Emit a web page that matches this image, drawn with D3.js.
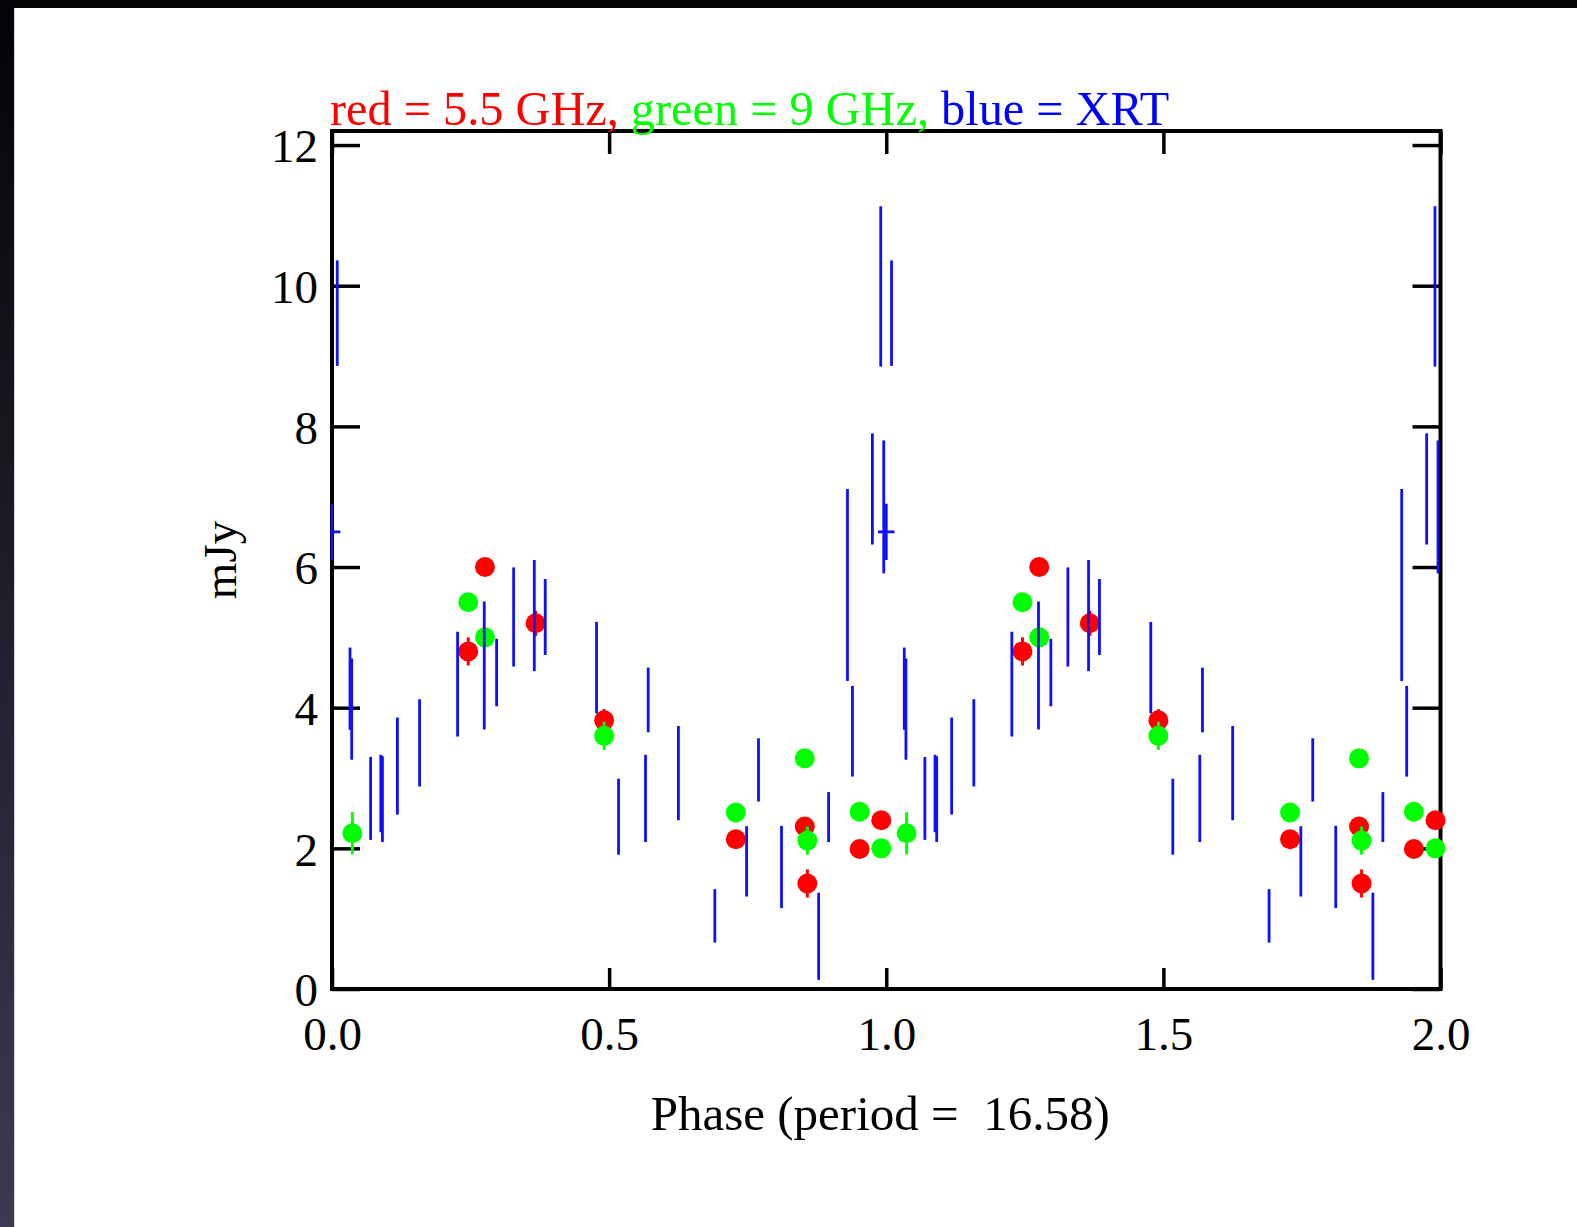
<!DOCTYPE html>
<html>
<head>
<meta charset="utf-8">
<script src="https://cdn.jsdelivr.net/npm/d3@7"></script>
<style>
body { margin: 0; background: #fff; }
svg { display: block; }
text { font-family: "Liberation Serif", "Times New Roman", serif; }
</style>
</head>
<body>
<div id="chart"></div>
<script>
// XRT rate (phase 0-1), drawn for two cycles
var xrtPhase = [0.0, 0.0095, 0.0325, 0.0355, 0.0697, 0.088, 0.091, 0.118, 0.158, 0.2266,
    0.2747, 0.297, 0.3277, 0.365, 0.3847, 0.4773, 0.517, 0.5657, 0.5705, 0.625,
    0.6907, 0.748, 0.7695, 0.811, 0.878, 0.896, 0.930, 0.939, 0.975, 0.990, 0.9955];
var xrtFlux = [6.50, 9.61, 4.27, 3.98, 2.71, 2.78, 2.70, 3.17, 3.50, 4.335,
    4.60, 4.50, 5.29, 5.31, 5.29, 4.57, 2.45, 2.71, 4.11, 3.07,
    1.04, 1.815, 3.115, 1.735, 0.75, 2.445, 5.745, 3.665, 7.11, 9.99, 6.855];
var xrtErr = [0.40, 0.75, 0.585, 0.72, 0.59, 0.55, 0.61, 0.69, 0.62, 0.745,
    0.91, 0.48, 0.705, 0.79, 0.54, 0.65, 0.54, 0.62, 0.46, 0.67,
    0.38, 0.50, 0.45, 0.585, 0.62, 0.355, 1.365, 0.645, 0.79, 1.14, 0.945];
var xrtPhaseErr = [0.015, 0, 0, 0, 0, 0, 0, 0, 0, 0,
    0, 0, 0, 0, 0, 0, 0, 0, 0, 0,
    0, 0, 0, 0, 0, 0, 0, 0, 0, 0, 0];

// 5.5 GHz (red)
var radio55Phase = [0.2458, 0.276, 0.3673, 0.491, 0.7286, 0.853, 0.8576, 0.952, 0.991];
var radio55Flux = [4.80, 6.00, 5.20, 3.82, 2.13, 2.31, 1.50, 1.99, 2.40];
var radio55Err = [0.20, 0.10, 0.18, 0.16, 0.10, 0.10, 0.20, 0.10, 0.10];

// 9 GHz (green)
var radio9Phase = [0.0367, 0.2458, 0.276, 0.491, 0.7286, 0.853, 0.8576, 0.952, 0.991];
var radio9Flux = [2.215, 5.50, 5.00, 3.60, 2.51, 3.28, 2.11, 2.52, 2.00];
var radio9Err = [0.30, 0.10, 0.10, 0.20, 0.10, 0.10, 0.20, 0.10, 0.10];

var cycles = [0, 1];
var xTicks = [0, 0.5, 1, 1.5, 2];
var yTicks = [0, 2, 4, 6, 8, 10, 12];

var width = 1577, height = 1227;
var pLeft = 332, pRight = 1440.5, pTop = 131, pBottom = 989;

var x = d3.scaleLinear().domain([0, 2]).range([pLeft, pRight]);
var y = d3.scaleLinear().domain([0, 12.2]).range([pBottom, pTop]);

var svg = d3.select("#chart")
    .append("svg")
    .attr("width", width)
    .attr("height", height);

// dark window border
var defs = svg.append("defs");
var grad = defs.append("linearGradient")
    .attr("id", "side").attr("x1", 0).attr("y1", 0).attr("x2", 0).attr("y2", 1);
grad.append("stop").attr("offset", "0%").attr("stop-color", "#030305");
grad.append("stop").attr("offset", "100%").attr("stop-color", "#3c3a52");
svg.append("rect").attr("x", 0).attr("y", 0).attr("width", 14).attr("height", height).attr("fill", "url(#side)");
svg.append("rect").attr("x", 0).attr("y", 0).attr("width", width).attr("height", 8).attr("fill", "#050505");
svg.append("line").attr("x1", 14.5).attr("x2", 14.5).attr("y1", 8).attr("y2", height)
    .attr("stroke", "#d4d4dc").attr("stroke-width", 1);

defs.append("clipPath").attr("id", "plot")
    .append("rect").attr("x", pLeft).attr("y", pTop)
    .attr("width", pRight - pLeft).attr("height", pBottom - pTop);

// axes and frame first, data on top
function style(g, size) {
    g.select(".domain").remove();
    g.selectAll(".tick line").attr("stroke", "#000").attr("stroke-width", 3.5);
    g.selectAll(".tick text").attr("fill", "#000").attr("font-size", size)
        .attr("font-family", "Liberation Serif, Times New Roman, serif");
}

svg.append("g")
    .attr("transform", "translate(0," + pBottom + ")")
    .call(d3.axisBottom(x).tickValues(xTicks).tickSize(-21).tickPadding(28).tickFormat(d3.format(".1f")))
    .call(style, 47);

svg.append("g")
    .attr("transform", "translate(0," + pTop + ")")
    .call(d3.axisTop(x).tickValues(xTicks).tickSize(-23).tickFormat(""))
    .call(style, 0);

svg.append("g")
    .attr("transform", "translate(" + pLeft + ",0)")
    .call(d3.axisLeft(y).tickValues(yTicks).tickSize(-28).tickPadding(14))
    .call(style, 47)
    .selectAll(".tick text").attr("dy", "0.36em");

svg.append("g")
    .attr("transform", "translate(" + pRight + ",0)")
    .call(d3.axisRight(y).tickValues(yTicks).tickSize(-28).tickFormat(""))
    .call(style, 0);

svg.append("rect")
    .attr("x", pLeft).attr("y", pTop)
    .attr("width", pRight - pLeft).attr("height", pBottom - pTop)
    .attr("fill", "none").attr("stroke", "#000").attr("stroke-width", 4);

function rows(ph, fl, er, pe) {
    var out = [];
    cycles.forEach(function(c) {
        ph.forEach(function(p, i) {
            out.push({p: p + c, v: fl[i], e: er[i], pe: pe ? pe[i] : 0});
        });
    });
    return out;
}

function radio(data, color) {
    var g = svg.append("g");
    g.selectAll("line.err")
        .data(data)
        .enter()
        .append("line")
        .attr("x1", function(d) { return x(d.p); })
        .attr("x2", function(d) { return x(d.p); })
        .attr("y1", function(d) { return y(d.v - d.e); })
        .attr("y2", function(d) { return y(d.v + d.e); })
        .attr("stroke", color)
        .attr("stroke-width", 3);
    g.selectAll("circle")
        .data(data)
        .enter()
        .append("circle")
        .attr("cx", function(d) { return x(d.p); })
        .attr("cy", function(d) { return y(d.v); })
        .attr("r", 10)
        .attr("fill", color);
}

radio(rows(radio55Phase, radio55Flux, radio55Err), "#ff0000");
radio(rows(radio9Phase, radio9Flux, radio9Err), "#00ff00");

var xrt = rows(xrtPhase, xrtFlux, xrtErr, xrtPhaseErr);
var xg = svg.append("g").attr("stroke", "#1010ff").attr("stroke-width", 2.8);
xg.selectAll("line.v")
    .data(xrt)
    .enter()
    .append("line")
    .attr("x1", function(d) { return x(d.p); })
    .attr("x2", function(d) { return x(d.p); })
    .attr("y1", function(d) { return y(d.v - d.e); })
    .attr("y2", function(d) { return y(d.v + d.e); });
xg.append("g").attr("clip-path", "url(#plot)")
    .selectAll("line.h")
    .data(xrt.filter(function(d) { return d.pe > 0; }))
    .enter()
    .append("line")
    .attr("x1", function(d) { return x(d.p - d.pe); })
    .attr("x2", function(d) { return x(d.p + d.pe); })
    .attr("y1", function(d) { return y(d.v); })
    .attr("y2", function(d) { return y(d.v); });

// labels
svg.append("text")
    .attr("x", (pLeft + pRight) / 2 - 6)
    .attr("y", 1130)
    .attr("text-anchor", "middle")
    .attr("font-size", 49)
    .style("white-space", "pre")
    .text("Phase (period =  16.58)");

svg.append("text")
    .attr("transform", "translate(236," + (pTop + pBottom) / 2 + ") rotate(-90)")
    .attr("text-anchor", "middle")
    .attr("font-size", 47)
    .text("mJy");

var title = svg.append("text")
    .attr("x", 330)
    .attr("y", 125)
    .attr("font-size", 48.3)
    .style("white-space", "pre");
title.append("tspan").attr("fill", "#ff0000").text("red = 5.5 GHz, ");
title.append("tspan").attr("fill", "#00ff00").text("green = 9 GHz, ");
title.append("tspan").attr("fill", "#0000ff").text("blue = XRT");
</script>
</body>
</html>
